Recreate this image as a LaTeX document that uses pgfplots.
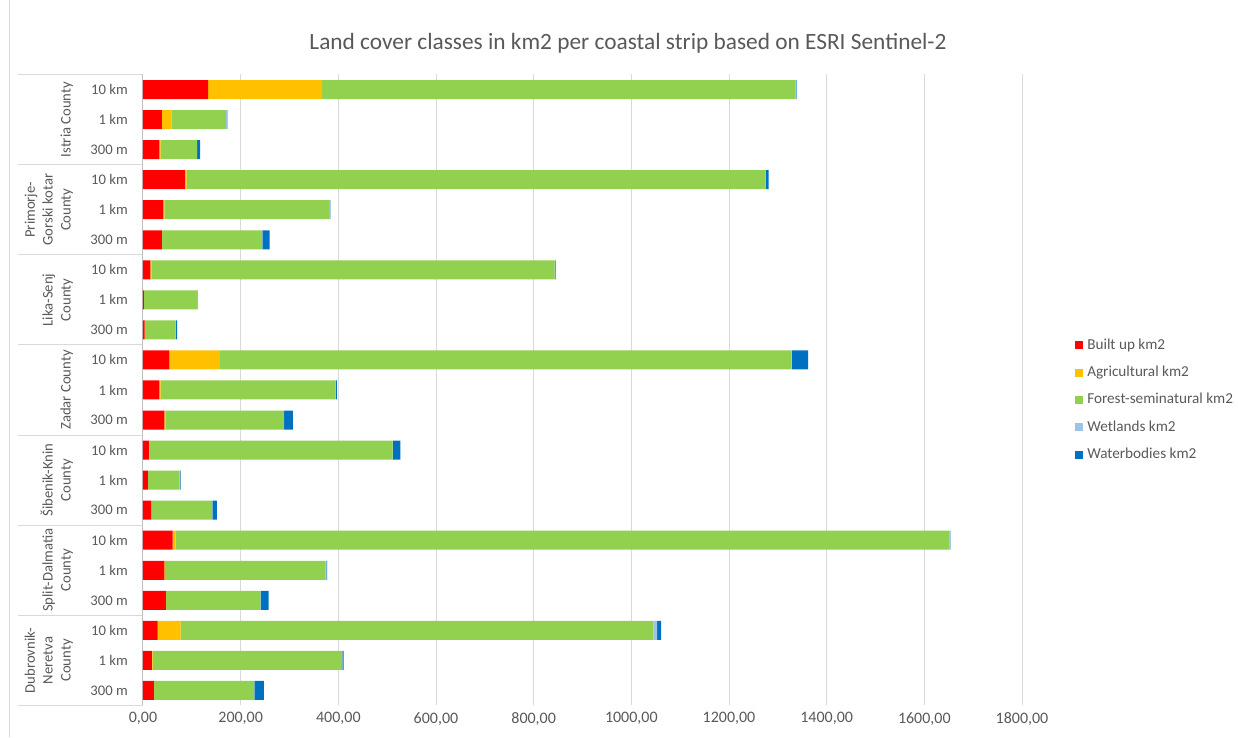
\documentclass[border=0pt]{standalone}
\usepackage{fontspec}
\setmainfont{Carlito}
\usepackage{pgfplots}
\pgfplotsset{compat=1.18}
\usepackage{pgfplotstable}
\definecolor{cBuilt}{HTML}{FF0000}
\definecolor{cAgri}{HTML}{FFC000}
\definecolor{cForest}{HTML}{92D050}
\definecolor{cWet}{HTML}{9DC3E6}
\definecolor{cWater}{HTML}{0070C0}
\definecolor{txtc}{HTML}{595959}
\definecolor{gridc}{HTML}{D9D9D9}
\definecolor{axlc}{HTML}{BFBFBF}

\pgfplotstableread{
yy built agri forest wet water
20 133.6 233.0 970.0 1.5 0.7
19 38.9 19.7 111.0 2.5 0.8
18 33.4 2.7 74.3 0.5 6.0
17 85.9 3.4 1185.0 0.5 6.3
16 41.6 2.0 337.4 1.5 1.3
15 38.9 0.5 204.6 0.3 15.0
14 15.0 2.0 826.0 0.5 1.5
13 2.0 0.3 109.5 0.3 0.2
12 3.4 0.2 63.0 0.5 3.0
11 53.9 103.6 1170.0 1.0 33.5
10 33.4 2.7 358.6 0.3 2.0
9 43.6 2.0 242.7 0.5 18.0
8 12.3 1.3 497.6 0.5 15.3
7 10.2 0.3 64.5 1.0 1.1
6 16.4 0.3 125.1 0.3 9.2
5 60.7 6.1 1585.0 1.5 0.5
4 43.6 1.3 329.3 1.5 1.2
3 47.0 0.3 193.3 0.4 16.0
2 30.0 47.0 968.0 8.0 8.0
1 18.4 1.4 387.8 0.5 2.9
0 22.5 0.3 204.9 0.5 19.2
}\datatable

\begin{document}
\begin{tikzpicture}
\path (0,0) rectangle (928.5pt,552.75pt);
\draw[color=gridc, line width=0.75pt] (6.75pt,0) -- (6.75pt,552.75pt);
\node[font=\fontsize{17.5}{21}\selectfont, text=txtc] at (471pt,520.5pt) {Land cover classes in km2 per coastal strip based on ESRI Sentinel-2};
\begin{axis}[
  at={(107.25pt,24pt)}, anchor=south west,
  scale only axis, width=659.25pt, height=473.25pt,
  xbar stacked, bar width=14.25pt,
  xmin=0, xmax=1800, ymin=-0.5, ymax=20.5,
  clip=false,
  xtick={0,200,400,600,800,1000,1200,1400,1600,1800},
  ytick={0,1,2,3,4,5,6,7,8,9,10,11,12,13,14,15,16,17,18,19,20},
  yticklabels={300 m,1 km,10 km,300 m,1 km,10 km,300 m,1 km,10 km,300 m,1 km,10 km,300 m,1 km,10 km,300 m,1 km,10 km,300 m,1 km,10 km},
  scaled x ticks=false,
  xticklabel style={font=\fontsize{12}{14}\selectfont, text=txtc, inner sep=0pt, yshift=-5pt,
    /pgf/number format/fixed, /pgf/number format/fixed zerofill, /pgf/number format/precision=2,
    /pgf/number format/use comma, /pgf/number format/1000 sep={}, /pgf/number format/assume math mode=true},
  xmajorgrids, grid style={color=gridc, line width=0.75pt},
  axis line style={draw=none},
  major tick length=0pt,
  yticklabel style={font=\fontsize{11}{13.4}\selectfont, text=txtc, inner sep=0pt, xshift=-11.25pt},
  legend style={at={(1.0603,0.484)}, anchor=west, draw=none, fill=none, inner sep=0pt,
    font=\fontsize{11.4}{13.6}\selectfont, text=txtc, row sep=10pt, column sep=3pt,
    nodes={inner sep=0pt, text height=8pt, text depth=2.5pt}},
  legend cell align=left,
  legend image code/.code={\draw[#1,draw=none] (0pt,-3pt) rectangle (6pt,3pt);},
]
\addplot[fill=cBuilt, draw=none] table[x=built, y=yy] {\datatable};
\addplot[fill=cAgri, draw=none] table[x=agri, y=yy] {\datatable};
\addplot[fill=cForest, draw=none] table[x=forest, y=yy] {\datatable};
\addplot[fill=cWet, draw=none] table[x=wet, y=yy] {\datatable};
\addplot[fill=cWater, draw=none] table[x=water, y=yy] {\datatable};
\legend{Built up km2, Agricultural km2, Forest-seminatural km2, Wetlands km2, Waterbodies km2}
\draw[color=axlc, line width=0.75pt] (axis cs:0,-0.5) -- (axis cs:0,20.5);
\draw[color=gridc, line width=0.75pt] (axis cs:-256,-0.5) -- (axis cs:0,-0.5);
\draw[color=gridc, line width=0.75pt] (axis cs:-256,2.5) -- (axis cs:0,2.5);
\draw[color=gridc, line width=0.75pt] (axis cs:-256,5.5) -- (axis cs:0,5.5);
\draw[color=gridc, line width=0.75pt] (axis cs:-256,8.5) -- (axis cs:0,8.5);
\draw[color=gridc, line width=0.75pt] (axis cs:-256,11.5) -- (axis cs:0,11.5);
\draw[color=gridc, line width=0.75pt] (axis cs:-256,14.5) -- (axis cs:0,14.5);
\draw[color=gridc, line width=0.75pt] (axis cs:-256,17.5) -- (axis cs:0,17.5);
\draw[color=gridc, line width=0.75pt] (axis cs:-256,20.5) -- (axis cs:0,20.5);
\node[rotate=90, anchor=south, align=center, inner sep=0pt, font=\fontsize{11}{13.4}\selectfont, text=txtc] at (axis cs:-143,19) {Istria County};
\node[rotate=90, anchor=south, align=center, inner sep=0pt, font=\fontsize{11}{13.4}\selectfont, text=txtc] at (axis cs:-143,16) {Primorje-\\Gorski kotar\\County};
\node[rotate=90, anchor=south, align=center, inner sep=0pt, font=\fontsize{11}{13.4}\selectfont, text=txtc] at (axis cs:-143,13) {Lika-Senj\\County};
\node[rotate=90, anchor=south, align=center, inner sep=0pt, font=\fontsize{11}{13.4}\selectfont, text=txtc] at (axis cs:-143,10) {Zadar County};
\node[rotate=90, anchor=south, align=center, inner sep=0pt, font=\fontsize{11}{13.4}\selectfont, text=txtc] at (axis cs:-143,7) {Šibenik-Knin\\County};
\node[rotate=90, anchor=south, align=center, inner sep=0pt, font=\fontsize{11}{13.4}\selectfont, text=txtc] at (axis cs:-143,4) {Split-Dalmatia\\County};
\node[rotate=90, anchor=south, align=center, inner sep=0pt, font=\fontsize{11}{13.4}\selectfont, text=txtc] at (axis cs:-143,1) {Dubrovnik-\\Neretva\\County};
\end{axis}
\end{tikzpicture}
\end{document}
